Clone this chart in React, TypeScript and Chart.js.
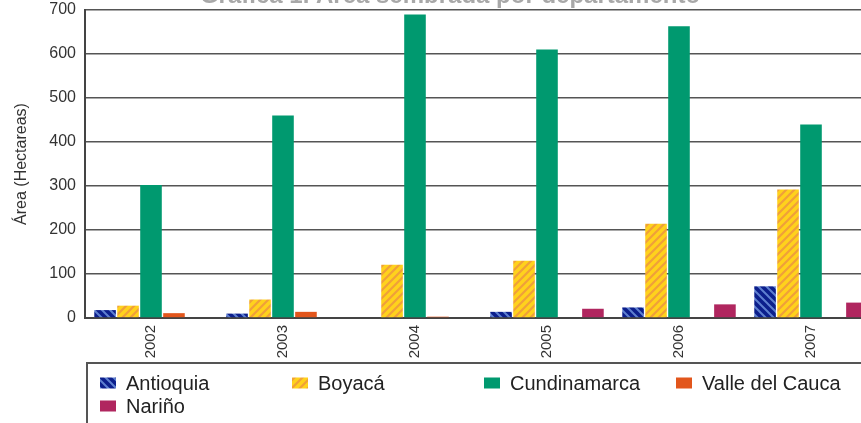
import React, { useEffect, useRef } from 'react';
import { Chart, registerables } from 'chart.js';

Chart.register(...registerables);

const titleText = 'Gráfica 1. Área sembrada por departamento';
const yTitle = 'Área (Hectareas)';
const years = ['2002', '2003', '2004', '2005', '2006', '2007'];
const yTicks = [0, 100, 200, 300, 400, 500, 600, 700];

const seriesNames = ['Antioquia', 'Boyacá', 'Cundinamarca', 'Valle del Cauca', 'Nariño'];
const antioquia = [18, 10, null, 14, 24, 72];
const boyaca = [28, 42, 121, 130, 214, 292];
const cundinamarca = [302, 460, 690, 610, 663, 440];
const valle = [11, 14, 3, null, null, null];
const narino = [null, null, null, 21, 31, 35];

const FONT = '"Liberation Sans", Arial, sans-serif';

function makePattern(base: string, stripe: string, dir: 'back' | 'fwd', lw: number): CanvasPattern | string {
  const s = 8;
  const c = document.createElement('canvas');
  c.width = s;
  c.height = s;
  const x = c.getContext('2d');
  if (!x) return base;
  x.fillStyle = base;
  x.fillRect(0, 0, s, s);
  x.strokeStyle = stripe;
  x.lineWidth = lw;
  x.beginPath();
  if (dir === 'fwd') {
    x.moveTo(-2, s + 2); x.lineTo(s + 2, -2);
    x.moveTo(-2, 2); x.lineTo(2, -2);
    x.moveTo(s - 2, s + 2); x.lineTo(s + 2, s - 2);
  } else {
    x.moveTo(-2, -2); x.lineTo(s + 2, s + 2);
    x.moveTo(-2, s - 2); x.lineTo(2, s + 2);
    x.moveTo(s - 2, -2); x.lineTo(s + 2, 2);
  }
  x.stroke();
  const ctx2 = document.createElement('canvas').getContext('2d');
  const p = ctx2 ? ctx2.createPattern(c, 'repeat') : null;
  return p || base;
}

const titlePlugin = {
  id: 'topTitle',
  afterDraw(chart: any) {
    const { ctx, chartArea } = chart;
    ctx.save();
    ctx.font = `bold 24px ${FONT}`;
    ctx.fillStyle = '#a8a8a8';
    ctx.textAlign = 'center';
    ctx.textBaseline = 'alphabetic';
    ctx.fillText(titleText, chart.width / 2, chartArea.top - 7);
    ctx.restore();
  },
};

const legendPlugin = {
  id: 'boxLegend',
  afterDraw(chart: any) {
    const { ctx, chartArea } = chart;
    const top = chartArea.bottom + 45;
    const left = chartArea.left + 2;
    ctx.save();
    ctx.strokeStyle = '#555';
    ctx.lineWidth = 2;
    ctx.strokeRect(left, top, chart.width + 20, chart.height + 20);
    ctx.font = `20px ${FONT}`;
    ctx.textBaseline = 'middle';
    ctx.textAlign = 'left';
    chart.data.datasets.forEach((ds: any, i: number) => {
      const col = i % 4;
      const row = Math.floor(i / 4);
      const bx = left + 13 + col * 192;
      const cy = top + 20 + row * 23;
      ctx.fillStyle = ds.backgroundColor;
      ctx.fillRect(bx, cy - 5.5, 16, 11);
      ctx.fillStyle = '#222';
      ctx.fillText(ds.label, bx + 26, cy + 1);
    });
    ctx.restore();
  },
};

export default function App() {
  const ref = useRef<HTMLCanvasElement>(null);
  useEffect(() => {
    const canvas = ref.current;
    if (!canvas) return;
    const colors = [
      makePattern('#0c1f8c', '#5f80d0', 'back', 2),
      makePattern('#ffd21c', '#f0a03a', 'fwd', 2.2),
      '#00996f',
      '#e2561c',
      '#b0265f',
    ];
    const values = [antioquia, boyaca, cundinamarca, valle, narino];
    const chart = new Chart(canvas, {
      type: 'bar',
      data: {
        labels: years,
        datasets: seriesNames.map((name, i) => ({
          label: name,
          data: values[i],
          backgroundColor: colors[i] as any,
          borderWidth: 0,
          categoryPercentage: 0.87,
          barPercentage: 0.94,
        })),
      },
      options: {
        responsive: false,
        animation: false,
        layout: { padding: { top: 34, right: 23, bottom: 83, left: 0 } },
        plugins: {
          legend: { display: false },
          title: { display: false },
          tooltip: { enabled: false },
        },
        scales: {
          x: {
            grid: { display: false, drawTicks: false },
            border: { display: true, color: '#444', width: 2 },
            ticks: {
              minRotation: 90,
              maxRotation: 90,
              padding: 7,
              color: '#333',
              font: { family: FONT, size: 15 },
            },
            afterFit: (s: any) => { s.height = 45; },
          },
          y: {
            min: 0,
            max: 700,
            afterBuildTicks: (s: any) => { s.ticks = yTicks.map((v) => ({ value: v })); },
            grid: { color: '#555', lineWidth: 1.6, drawTicks: false },
            border: { display: true, color: '#444', width: 2 },
            ticks: {
              padding: 9,
              color: '#333',
              font: { family: FONT, size: 16 },
            },
            title: {
              display: true,
              text: yTitle,
              color: '#333',
              padding: { top: 12, bottom: 0 },
              font: { family: FONT, size: 16 },
            },
            afterFit: (s: any) => { s.width = 85; },
          },
        },
      },
      plugins: [titlePlugin, legendPlugin],
    });
    return () => chart.destroy();
  }, []);
  return (
    <div style={{ position: 'fixed', left: 0, top: 0, width: 861, height: 423, overflow: 'hidden', background: '#fff' }}>
      <canvas
        ref={ref}
        width={900}
        height={470}
        style={{ position: 'absolute', left: 0, top: -24, width: 900, height: 470 }}
      />
    </div>
  );
}
